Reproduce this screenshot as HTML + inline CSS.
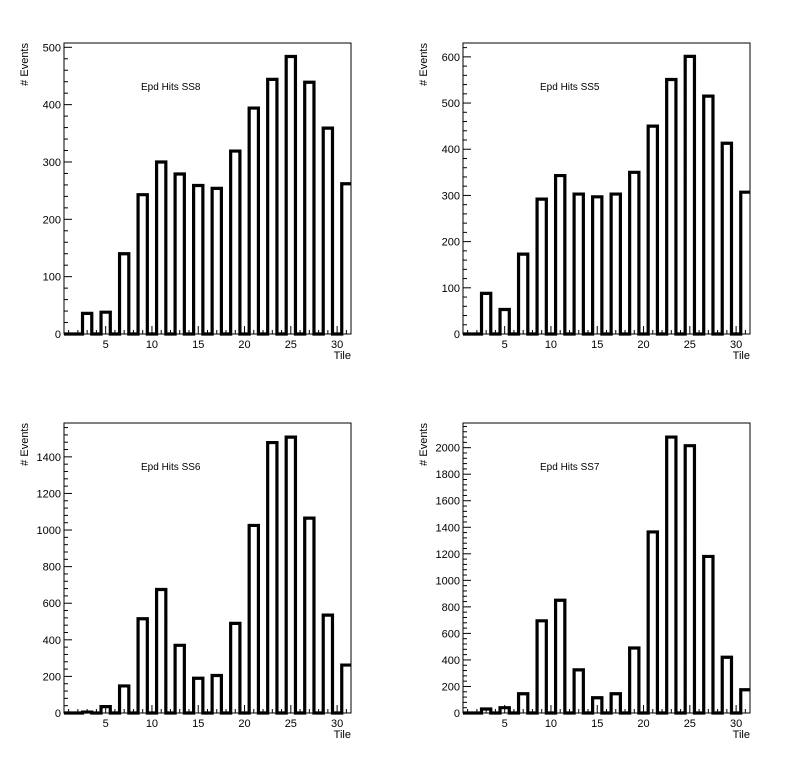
<!DOCTYPE html>
<html><head><meta charset="utf-8"><style>
html,body{margin:0;padding:0;background:#fff;}
svg{display:block;font-family:"Liberation Sans",Arial,sans-serif;}
</style></head><body>
<svg id="c" width="798" height="759" viewBox="0 0 798 759"></svg>
<script>
const tiles = [1,3,5,7,9,11,13,15,17,19,21,23,25,27,29,31];
const titles = ["Epd Hits SS8","Epd Hits SS5","Epd Hits SS6","Epd Hits SS7"];
const ss8 = [0,36,38,140,243,300,279,259,254,319,394,444,484,439,359,262];
const ss5 = [0,88,53,173,292,343,303,297,303,350,450,551,601,515,413,307];
const ss6 = [0,5,35,148,515,675,370,190,205,490,1025,1478,1508,1065,535,262];
const ss7 = [0,30,40,145,695,850,325,115,145,490,1365,2080,2015,1180,420,175];
const xTicks = [5,10,15,20,25,30];
const yMax = [507.5,630,1585,2186];
const yMajor = [100,100,200,200];
const series = [ss8,ss5,ss6,ss7];
const pads = [
 {l:64,t:43,r:351,b:334,name:"pad-ss8"},
 {l:463,t:43,r:750,b:334,name:"pad-ss5"},
 {l:64,t:423,r:351,b:713,name:"pad-ss6"},
 {l:463,t:423,r:750,b:713,name:"pad-ss7"}
];
const NS="http://www.w3.org/2000/svg";
const svg=document.getElementById('c');
function mk(tag,attrs,parent){const e=document.createElementNS(NS,tag);for(const k in attrs)e.setAttribute(k,attrs[k]);(parent||svg).appendChild(e);return e;}
pads.forEach((p,i)=>{
  const g=mk('g',{});
  
  
  const xMin=0.5,xMaxV=31.5,ym=yMax[i];
  const X=v=>p.l+(v-xMin)/(xMaxV-xMin)*(p.r-p.l);
  const Y=v=>p.b-v/ym*(p.b-p.t);
  const fr=mk('rect',{x:p.l,y:p.t,width:p.r-p.l,height:p.b-p.t,fill:'none',stroke:'#000','stroke-width':1},g);
  
  
  // y ticks
  const maj=yMajor[i],minr=maj/5;
  for(let v=0;v<=ym+0.001;v+=minr){
    const isMaj=Math.abs(v/maj-Math.round(v/maj))<1e-6;
    mk('line',{x1:p.l,x2:p.l+(isMaj?8:4),y1:Y(v),y2:Y(v),stroke:'#000','stroke-width':1},g);
    if(isMaj){
      const t=mk('text',{x:p.l-3,y:Y(v)+4,'text-anchor':'end','font-size':11,fill:'#000'},g);
      t.textContent=Math.round(v);
      
      
    }
  }
  // x ticks
  for(let v=1;v<=31;v++){
    const isMaj=v%5===0;
    mk('line',{x1:X(v),x2:X(v),y1:p.b,y2:p.b-(isMaj?8:4),stroke:'#000','stroke-width':1},g);
  }
  xTicks.forEach(v=>{
    const t=mk('text',{x:X(v),y:p.b+14,'text-anchor':'middle','font-size':11,fill:'#000'},g);
    t.textContent=v;
    
    
  });
  // histogram outline
  const vals=series[i];
  const full=[];for(let k=1;k<=31;k++)full.push(0);
  tiles.forEach((tl,j)=>{full[tl-1]=vals[j];});
  let d='M'+X(0.5)+','+Y(0);
  for(let k=1;k<=31;k++){
    d+=' L'+X(k-0.5)+','+Y(full[k-1])+' L'+X(k+0.5)+','+Y(full[k-1]);
  }
  const path=mk('path',{d:d,fill:'none',stroke:'#000','stroke-width':3.2,'stroke-linejoin':'miter'},g);
  
  
  // title text
  const tt=mk('text',{x:p.l+77,y:p.t+47,'font-size':10,fill:'#000'},g);
  tt.textContent=titles[i];
  
  
  // axis titles
  const xt=mk('text',{x:p.r,y:p.b+25,'text-anchor':'end','font-size':11,fill:'#000'},g);
  xt.textContent='Tile';
  
  
  const yx=p.l-36,yy=p.t;
  const yt=mk('text',{x:yx,y:yy,'text-anchor':'end','font-size':11,fill:'#000',transform:'rotate(-90 '+yx+' '+yy+')'},g);
  yt.textContent='# Events';
  
  
});
</script>
</body></html>
